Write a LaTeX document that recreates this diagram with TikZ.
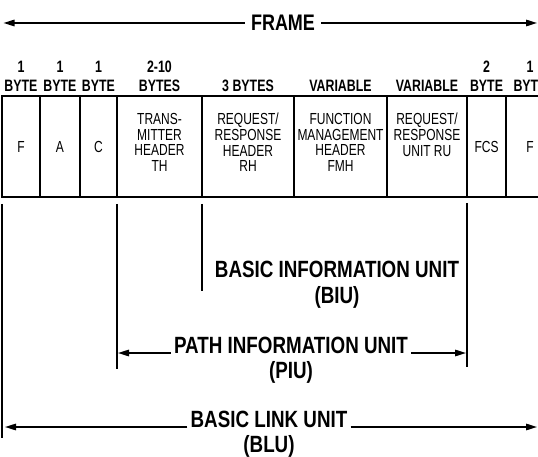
\documentclass[tikz,border=0pt]{standalone}
\usepackage{fontspec}
\setmainfont{Liberation Sans}[FakeStretch=0.8]
\newfontfamily\narrowfont{Liberation Sans}[FakeStretch=0.75]
\usetikzlibrary{arrows.meta, positioning}

\begin{document}
\begin{tikzpicture}[
    x=1pt, y=1pt,
    field/.style={rectangle, draw, line width=2pt, outer sep=0pt, inner sep=1pt, minimum height=101pt, align=center, font=\narrowfont\fontsize{16}{15.7}\selectfont},
    field_text/.style={field, execute at end node={\rule[-8pt]{0pt}{8pt}}},
    size_label/.style={align=center, inner sep=1pt, font=\narrowfont\bfseries\fontsize{16.5}{19}\selectfont},
    unit_label/.style={inner xsep=3pt, inner ysep=1pt, font=\bfseries\fontsize{23.5}{28}\selectfont},
    arrow/.style={-{Triangle[length=11pt, width=6.5pt]}, line width=1.5pt, shorten >=1pt},
    drop/.style={line width=2pt}
]
\clip (0,0) rectangle (538,-457);

\node[field, minimum width=38pt, anchor=north west] (flag_a) at (2,-96) {F};
\node[field, minimum width=40pt, right=0pt of flag_a] (addr) {A};
\node[field, minimum width=37pt, right=0pt of addr] (ctrl) {C};
\node[field_text, minimum width=85pt, right=0pt of ctrl] (th) {TRANS-\\MITTER\\HEADER\\TH};
\node[field_text, minimum width=92pt, right=0pt of th] (rh) {REQUEST/\\RESPONSE\\HEADER\\RH};
\node[field_text, minimum width=93pt, right=0pt of rh] (fmh) {FUNCTION\\MANAGEMENT\\HEADER\\FMH};
\node[field_text, minimum width=80pt, right=0pt of fmh] (ru) {REQUEST/\\RESPONSE\\UNIT RU\\\phantom{X}};
\node[field, minimum width=39pt, right=0pt of ru] (fcs) {FCS};
\node[field, minimum width=48pt, right=0pt of fcs] (flag_b) {F};

\node[size_label, above=3pt of flag_a] (flag_a_size) {1\\BYTE};
\node[size_label, above=3pt of addr] (addr_size) {1\\BYTE};
\node[size_label, above=3pt of ctrl] (ctrl_size) {1\\BYTE};
\node[size_label, above=3pt of th] (th_size) {2-10\\BYTES};
\node[size_label, above=3pt of rh] (rh_size) {3 BYTES};
\node[size_label, above=3pt of fmh] (fmh_size) {VARIABLE};
\node[size_label, above=3pt of ru] (ru_size) {VARIABLE};
\node[size_label, above=3pt of fcs] (fcs_size) {2\\BYTE};
\node[size_label, above=3pt of flag_b] (flag_b_size) {1\\BYTE};

\node[unit_label, font=\bfseries\fontsize{22.5}{27}\selectfont, inner xsep=6pt] (frame) at (283,-23) {FRAME};
\coordinate (frame_l) at (2.5,-23);
\coordinate (frame_r) at (538,-23);
\draw[arrow] (frame) -- (frame_l);
\draw[arrow] (frame) -- (frame_r);

\draw[drop] ([yshift=-7pt]flag_a.south west) -- ++(0,-234);
\draw[drop] ([yshift=-7pt]th.south west) -- ++(0,-165);
\draw[drop] ([yshift=-7pt]rh.south west) -- ++(0,-87);
\draw[drop] ([yshift=-6pt]fcs.south west) -- ++(0,-164);

\node[unit_label, anchor=base] (biu) at (337,-277) {BASIC INFORMATION UNIT};
\node[unit_label, anchor=base] (biu_abbr) at ([yshift=-26pt]biu.base) {(BIU)};
\node[unit_label, anchor=base] (piu) at (291,-353) {PATH INFORMATION UNIT};
\node[unit_label, anchor=base] (piu_abbr) at ([yshift=-25pt]piu.base) {(PIU)};
\node[unit_label, anchor=base] (blu) at (269,-427) {BASIC LINK UNIT};
\node[unit_label, anchor=base] (blu_abbr) at ([yshift=-25pt]blu.base) {(BLU)};

\coordinate (piu_l) at (th.south west |- piu.base);
\coordinate (piu_r) at (fcs.south west |- piu.base);
\coordinate (blu_l) at ([xshift=2pt]flag_a.south west |- blu.base);
\coordinate (blu_r) at (538,-427);
\draw[arrow] (piu.base west) -- (piu_l);
\draw[arrow] (piu.base east) -- (piu_r);
\draw[arrow] (blu.base west) -- (blu_l);
\draw[arrow] (blu.base east) -- (blu_r);
\end{tikzpicture}
\end{document}
